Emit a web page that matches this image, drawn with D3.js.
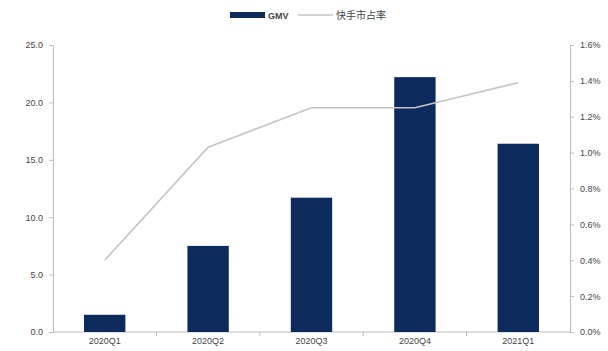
<!DOCTYPE html>
<html>
<head>
<meta charset="utf-8">
<script src="https://cdn.jsdelivr.net/npm/d3@7"></script>
<style>
  html, body { margin: 0; padding: 0; background: #fff; }
  svg { display: block; font-family: "Liberation Sans", "Noto Sans CJK SC", sans-serif; }
</style>
</head>
<body>
<svg id="chart" width="608" height="351"></svg>
<script>
// Quarterly GMV (bars, left axis) and Kuaishou market share (line, right axis)
const quarters = ["2020Q1", "2020Q2", "2020Q3", "2020Q4", "2021Q1"];
const gmv = [1.5, 7.5, 11.7, 22.2, 16.4];
const share = [0.0040, 0.0103, 0.0125, 0.0125, 0.0139];
const leftTicks = [0, 5, 10, 15, 20, 25];
const rightTicks = [0, 0.002, 0.004, 0.006, 0.008, 0.010, 0.012, 0.014, 0.016];
const seriesNames = ["GMV", "快手市占率"];

const svg = d3.select("#chart");
const plotLeft = 53, plotRight = 570, plotTop = 45, plotBottom = 332;
const barColor = "#0c2a5b";
const lineColor = "#c4c4c4";
const axisColor = "#bdbdbd";
const textColor = "#444";

const x = d3.scaleBand().domain(quarters).range([plotLeft, plotRight]).paddingInner(0.6).paddingOuter(0.3);
const yL = d3.scaleLinear().domain([0, 25]).range([plotBottom, plotTop]);
const yR = d3.scaleLinear().domain([0, 0.016]).range([plotBottom, plotTop]);

// Left axis
const gL = svg.append("g").attr("transform", `translate(${plotLeft},0)`)
  .call(d3.axisLeft(yL).tickValues(leftTicks).tickSize(4).tickFormat(d3.format(".1f")));
// Right axis
const gR = svg.append("g").attr("transform", `translate(${plotRight},0)`)
  .call(d3.axisRight(yR).tickValues(rightTicks).tickSize(4).tickFormat(d3.format(".1%")));
// Bottom axis
const gB = svg.append("g").attr("transform", `translate(0,${plotBottom})`)
  .call(d3.axisBottom(x).tickSize(0).tickPadding(6));

[gL, gR, gB].forEach(g => {
  g.selectAll(".domain").attr("stroke", axisColor);
  g.selectAll(".tick line").attr("stroke", axisColor);
  g.selectAll(".tick text").attr("fill", textColor).attr("font-size", 9);
});
gL.selectAll(".tick text").attr("x", -10);
gR.selectAll(".tick text").attr("x", 10);
gB.select(".domain").attr("d", `M${plotLeft},0H${plotRight}`);

// Small separators between categories on the x axis
gB.selectAll(".sep").data(d3.range(1, quarters.length)).join("line")
  .attr("class", "sep")
  .attr("x1", i => plotLeft + (plotRight - plotLeft) / quarters.length * i)
  .attr("x2", i => plotLeft + (plotRight - plotLeft) / quarters.length * i)
  .attr("y1", 0).attr("y2", 4)
  .attr("stroke", axisColor);

// Bars
svg.append("g").selectAll("rect").data(quarters).join("rect")
  .attr("x", d => x(d))
  .attr("width", x.bandwidth())
  .attr("y", (d, i) => yL(gmv[i]))
  .attr("height", (d, i) => plotBottom - yL(gmv[i]))
  .attr("fill", barColor);

// Market share line
const line = d3.line()
  .x((d, i) => x(quarters[i]) + x.bandwidth() / 2)
  .y(d => yR(d));
svg.append("path").datum(share)
  .attr("d", line)
  .attr("fill", "none")
  .attr("stroke", lineColor)
  .attr("stroke-width", 1.6);

// Legend
const lg = svg.append("g").attr("transform", "translate(230,15)");
lg.append("rect").attr("x", 0).attr("y", -3).attr("width", 35).attr("height", 6).attr("fill", barColor);
lg.append("text").attr("x", 38).attr("y", 3.5).text(seriesNames[0])
  .attr("font-size", 9).attr("font-weight", "bold").attr("fill", textColor);
lg.append("line").attr("x1", 68).attr("x2", 103).attr("y1", 0).attr("y2", 0)
  .attr("stroke", lineColor).attr("stroke-width", 1.6);
lg.append("text").attr("x", 106).attr("y", 3.5).text(seriesNames[1])
  .attr("font-size", 10).attr("fill", textColor);
</script>
</body>
</html>
